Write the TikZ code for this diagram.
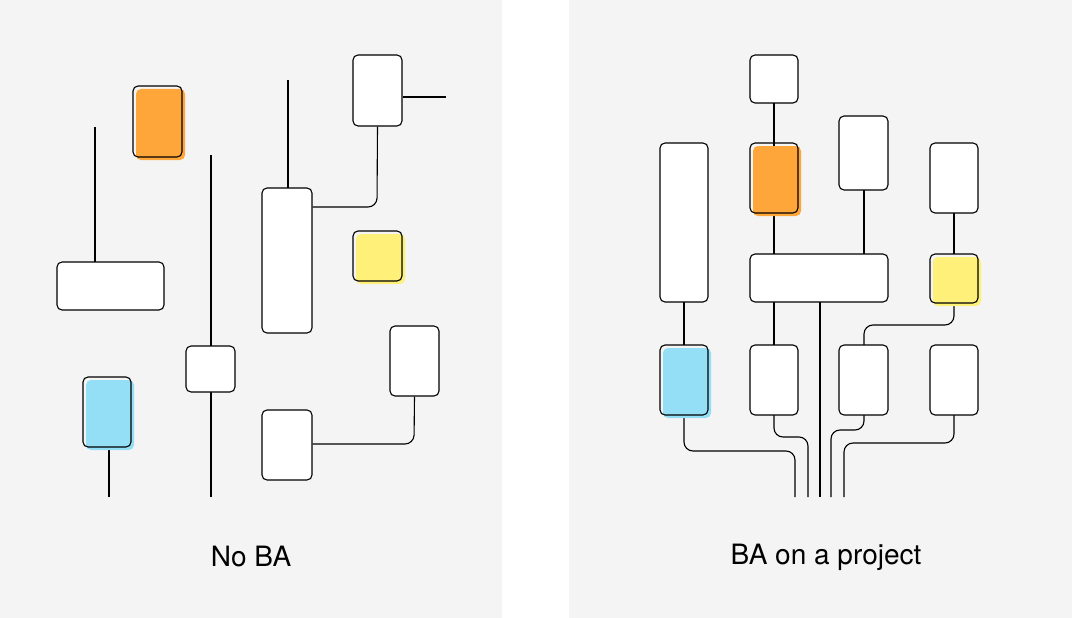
\documentclass[tikz,border=0pt]{standalone}
\usepackage{fontspec}
\setmainfont{TeX Gyre Heros}
\definecolor{bg}{HTML}{F4F4F4}
\definecolor{org}{HTML}{FFA63B}
\definecolor{yel}{HTML}{FFF07A}
\definecolor{blu}{HTML}{94DFF5}
\begin{document}
\begin{tikzpicture}[x=1pt,y=-1pt,line width=1.1pt,
  bx/.style={draw=black,fill=white,rounded corners=5pt},
  cbx/.style={draw=black,rounded corners=5pt},
  ln/.style={draw=black,rounded corners=9pt},
  lbl/.style={font=\fontsize{28}{32}\selectfont,inner sep=0pt}]
\useasboundingbox (0,0) rectangle (1072,618);
\fill[white] (0,0) rectangle (1072,618);
\fill[bg] (0,0) rectangle (502,618);
\fill[bg] (569,0) rectangle (1072,618);
% colored fills (offset)
\newcommand\cbox[6]{\fill[#5,rounded corners=5pt] (#1+3,#2+3) rectangle (#3+3,#4+3);
  \draw[cbx] (#1,#2) rectangle node(#6){} (#3,#4);}
% ---- left
\draw[ln] (95,127) coordinate(l1) -- (95,262);
\node[bx,minimum width=107pt,minimum height=48pt,inner sep=0pt] (la) at (110.5,286) {};
\draw[ln] (211,155) -- (211,497);
\node[bx,minimum width=49pt,minimum height=46pt,inner sep=0pt] (lb) at (210.5,369) {};
\draw[ln] (288,80) -- (288,188);
\node[bx,minimum width=50pt,minimum height=145pt,inner sep=0pt] (lc) at (287,260.5) {};
\node[bx,minimum width=49pt,minimum height=71pt,inner sep=0pt] (ld) at (377.5,90.5) {};
\draw[ln] (ld.east|-0,97) -- (446,97);
\draw[ln] (ld.south) -- (377,207) -- (lc.east|-0,207);
\node[bx,minimum width=49pt,minimum height=70pt,inner sep=0pt] (le) at (414.5,361) {};
\node[bx,minimum width=50pt,minimum height=70pt,inner sep=0pt] (lf) at (287,445) {};
\draw[ln] (lf.east|-0,444) -- (414,444) -- (le.south);
\draw[ln] (109,447) -- (109,497);
\cbox{133}{86}{182}{157}{org}{lo}
\cbox{353}{231}{402}{281}{yel}{ly}
\cbox{83}{377}{131}{447}{blu}{lbb}
\node[lbl] (t1) at (251,557) {No BA};
% ---- right
\draw[ln] (774,103) -- (774,254);
\draw[ln] (864,190) -- (864,254);
\draw[ln] (954,213) -- (954,254);
\draw[ln] (684,302) -- (684,345);
\draw[ln] (774,302) -- (774,345);
\draw[ln] (820,302) -- (820,497);
\draw[ln] (954,303) -- (954,325) -- (864,325) -- (864,345);
\draw[ln] (684,415) -- (684,451) -- (795,451) -- (795,497);
\draw[ln] (774,415) -- (774,437) -- (808,437) -- (808,497);
\draw[ln] (864,415) -- (864,430) -- (831,430) -- (831,497);
\draw[ln] (954,415) -- (954,443) -- (844,443) -- (844,497);
\node[bx,minimum width=48pt,minimum height=48pt,inner sep=0pt] (r1) at (774,79) {};
\node[bx,minimum width=49pt,minimum height=74pt,inner sep=0pt] (r2) at (863.5,153) {};
\node[bx,minimum width=48pt,minimum height=70pt,inner sep=0pt] (r3) at (954,178) {};
\node[bx,minimum width=48pt,minimum height=159pt,inner sep=0pt] (r4) at (684,222.5) {};
\node[bx,minimum width=138pt,minimum height=48pt,inner sep=0pt] (r5) at (819,278) {};
\node[bx,minimum width=48pt,minimum height=70pt,inner sep=0pt] (r6) at (774,380) {};
\node[bx,minimum width=49pt,minimum height=70pt,inner sep=0pt] (r7) at (863.5,380) {};
\node[bx,minimum width=48pt,minimum height=70pt,inner sep=0pt] (r8) at (954,380) {};
\cbox{750}{143}{798}{213}{org}{ro}
\cbox{930}{254}{978}{303}{yel}{ry}
\cbox{660}{345}{708}{415}{blu}{rb}
\node[lbl] (t2) at (826,557) {BA on a project};
\end{tikzpicture}
\end{document}
